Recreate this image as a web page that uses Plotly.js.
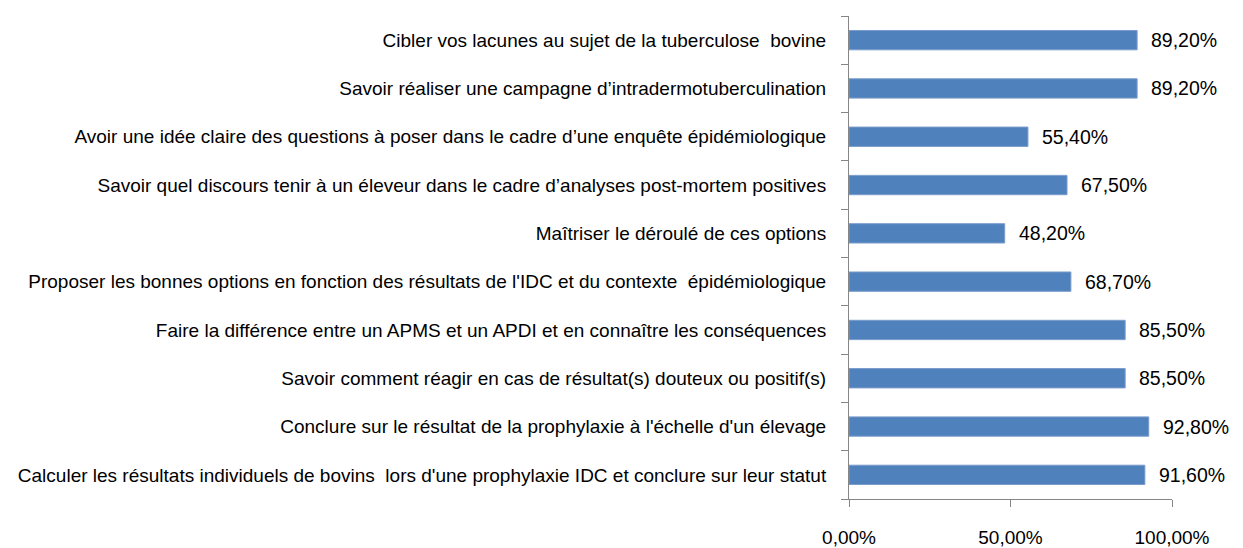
<!DOCTYPE html>
<html><head><meta charset="utf-8">
<script src="https://cdn.plot.ly/plotly-3.0.1.min.js"></script>
<style>body{margin:0;background:#fff}#c{width:1243px;height:548px}</style>
</head><body><div id="c"></div>
<script>
const categories = [
  "Calculer les résultats individuels de bovins  lors d'une prophylaxie IDC et conclure sur leur statut",
  "Conclure sur le résultat de la prophylaxie à l'échelle d'un élevage",
  "Savoir comment réagir en cas de résultat(s) douteux ou positif(s)",
  "Faire la différence entre un APMS et un APDI et en connaître les conséquences",
  "Proposer les bonnes options en fonction des résultats de l'IDC et du contexte  épidémiologique",
  "Maîtriser le déroulé de ces options",
  "Savoir quel discours tenir à un éleveur dans le cadre d’analyses post-mortem positives",
  "Avoir une idée claire des questions à poser dans le cadre d’une enquête épidémiologique",
  "Savoir réaliser une campagne d’intradermotuberculination",
  "Cibler vos lacunes au sujet de la tuberculose  bovine"
];
const values = [0.916, 0.928, 0.855, 0.855, 0.687, 0.482, 0.675, 0.554, 0.892, 0.892];
const xTicks = [0, 0.5, 1];

const fmt = v => (v*100).toFixed(2).replace('.', ',') + '%';
const font = "Liberation Sans, Arial, sans-serif";

const trace = {
  type: 'bar', orientation: 'h',
  x: values, y: categories,
  width: 0.4,
  marker: {color: '#4F81BD', line: {color: '#7A9CCB', width: 1}},
  hoverinfo: 'x+y'
};
const annotations = values.map((v, i) => ({
  x: v, y: categories[i], xref: 'x', yref: 'y',
  text: fmt(v), showarrow: false, xanchor: 'left', xshift: 12,
  font: {family: font, size: 19.5, color: '#000'}
}));
const layout = {
  width: 1243, height: 548,
  margin: {l: 849, r: 71, t: 16, b: 49},
  paper_bgcolor: '#fff', plot_bgcolor: '#fff',
  separators: ', ',
  showlegend: false,
  font: {family: font, size: 18, color: '#000'},
  xaxis: {
    range: [0, 1], tickvals: xTicks, tickformat: '.2%',
    showgrid: false, zeroline: false, showline: true, linecolor: '#868686', linewidth: 1,
    ticks: 'outside', ticklen: 7, tickcolor: '#868686',
    ticklabelstandoff: 14,
    tickfont: {family: font, size: 19, color: '#000'}, fixedrange: true
  },
  yaxis: {
    type: 'category', categoryorder: 'array', categoryarray: categories,
    showgrid: false, zeroline: false, showline: true, linecolor: '#868686', linewidth: 1,
    ticks: 'outside', ticklen: 7, tickcolor: '#868686', tickson: 'boundaries',
    ticklabelstandoff: 18,
    tickfont: {family: font, size: 19, color: '#000'}, automargin: false, fixedrange: true
  },
  annotations: annotations
};
Plotly.newPlot('c', [trace], layout, {displayModeBar: false, staticPlot: true});
</script></body></html>
